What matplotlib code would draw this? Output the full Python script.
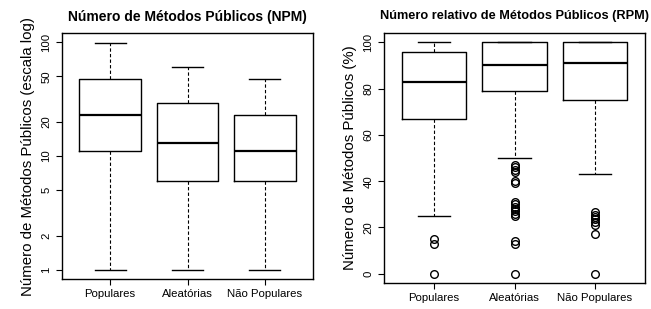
import matplotlib
matplotlib.use("Agg")
import matplotlib.pyplot as plt

plt.rcParams['font.family'] = ['Liberation Sans', 'DejaVu Sans']

groups = ["Populares", "Aleatórias", "Não Populares"]

# NPM (log scale): low whisker, q1, median, q3, high whisker
npm_whislo = [1, 1, 1]
npm_q1 = [11, 6, 6]
npm_med = [23, 13, 11]
npm_q3 = [47, 29, 23]
npm_whishi = [98, 60, 47]

# RPM (%)
rpm_whislo = [25, 50, 43]
rpm_q1 = [67, 79, 75]
rpm_med = [83, 90, 91]
rpm_q3 = [96, 100, 100]
rpm_whishi = [100, 100, 100]
rpm_fliers = [
    [15, 13, 0],
    [47, 46, 45, 44, 40, 39, 31, 30, 29, 28, 27, 26, 25, 14, 13, 0],
    [26.5, 25.5, 24.5, 23.5, 22.5, 21, 17, 0],
]


def make_stats(lo, q1, med, q3, hi, fliers=None):
    stats = []
    for i in range(len(lo)):
        stats.append(dict(whislo=lo[i], q1=q1[i], med=med[i], q3=q3[i],
                          whishi=hi[i], fliers=fliers[i] if fliers else []))
    return stats


def draw(ax, stats):
    ax.bxp(stats, positions=[1, 2, 3], widths=0.8, showfliers=True,
           boxprops=dict(color='black', linewidth=1.0),
           medianprops=dict(color='black', linewidth=1.6),
           whiskerprops=dict(color='black', linewidth=0.8, linestyle=(0, (3, 2))),
           capprops=dict(color='black', linewidth=1.0),
           capwidths=0.4,
           flierprops=dict(marker='o', markerfacecolor='none',
                           markeredgecolor='black', markersize=5.5,
                           markeredgewidth=1.0))
    ax.set_xlim(0.38, 3.62)
    ax.set_xticks([1, 2, 3])
    ax.set_xticklabels(groups)
    ax.tick_params(axis='both', direction='out', length=4, width=0.8,
                   color='black', labelsize=8.2)
    for s in ax.spines.values():
        s.set_linewidth(1.0)


def rotate_y(ax):
    for lab in ax.get_yticklabels():
        lab.set_rotation(90)
        lab.set_va('center')


fig = plt.figure(figsize=(6.51, 3.09), dpi=100)

ax1 = fig.add_axes([62 / 651, 1 - 279 / 309, 251 / 651, 246 / 309])
draw(ax1, make_stats(npm_whislo, npm_q1, npm_med, npm_q3, npm_whishi))
ax1.set_yscale('log')
ax1.set_ylim(10 ** -0.08, 10 ** 2.08)
ax1.set_yticks([1, 2, 5, 10, 20, 50, 100])
ax1.set_yticklabels(['1', '2', '5', '10', '20', '50', '100'])
ax1.minorticks_off()
rotate_y(ax1)
ax1.set_ylabel("Número de Métodos Públicos (escala log)", fontsize=10.8, labelpad=5)
ax1.set_title("Número de Métodos Públicos (NPM)", fontsize=10, fontweight='bold', pad=9)

ax2 = fig.add_axes([384 / 651, 1 - 283 / 309, 261 / 651, 250 / 309])
draw(ax2, make_stats(rpm_whislo, rpm_q1, rpm_med, rpm_q3, rpm_whishi, rpm_fliers))
ax2.set_ylim(-4, 104)
ax2.set_yticks([0, 20, 40, 60, 80, 100])
rotate_y(ax2)
ax2.set_ylabel("Número de Métodos Públicos (%)", fontsize=10.8, labelpad=5)
ax2.set_title("Número relativo de Métodos Públicos (RPM)", fontsize=9.2, fontweight='bold', pad=10)

fig.savefig("out.png", dpi=100)
